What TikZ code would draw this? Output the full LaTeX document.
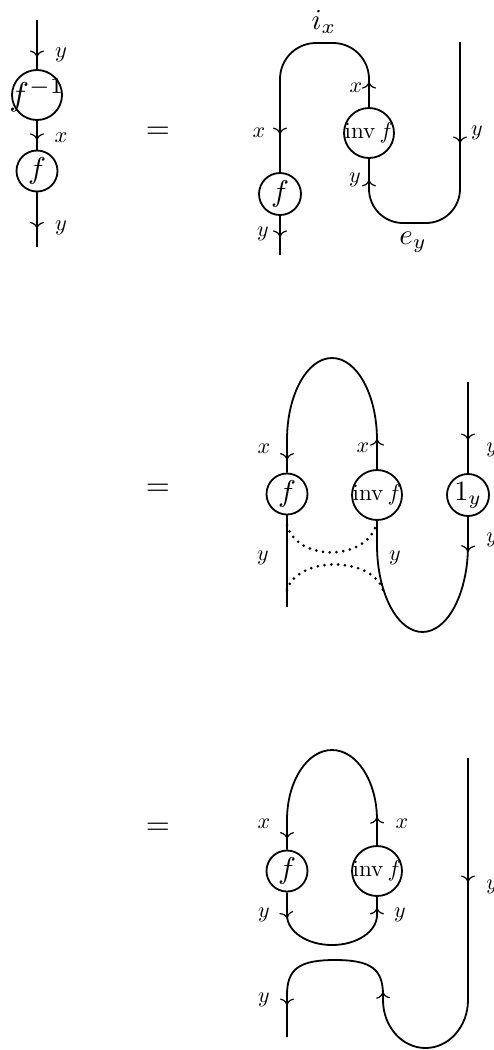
\documentclass[tikz,border=0pt]{standalone}
\usetikzlibrary{decorations.markings,arrows.meta}
\tikzset{
  myto/.tip={To[length=6.5pt,width=14pt,line width=1.2pt]},
  strand/.style={line width=1.8pt},
  arr/.style={postaction={decorate,decoration={markings,mark=at position #1 with {\arrow{myto}}}}},
  bx/.style={circle,draw,line width=1.8pt,inner sep=0pt,minimum size=#1},
  txt/.style={inner sep=0pt,scale=#1},
  lab/.style={inner sep=0pt,scale=2.2},
  labA/.style={inner sep=0pt,scale=2.25},
  big/.style={inner sep=0pt,scale=2.9},
  eq/.style={inner sep=0pt,scale=3.1},
  dots/.style={line width=3pt,line cap=round,dash pattern=on 0pt off 6.8pt},
}
\begin{document}
\begin{tikzpicture}[x=1pt,y=-1pt]
\useasboundingbox (0,0) rectangle (493,1050);
% ---------- panel 1 ----------
\coordinate (t1) at (37,20);
\coordinate (b1) at (37,247);
\node[bx=50pt] (finv) at (37,95) {};
\node[txt=3.3] (finvt) at (finv) {$f^{-1}$};
\node[bx=41pt] (f1) at (37,171) {};
\node[txt=3.0] (f1t) at (f1) {$f$};
\draw[strand,arr=37pt] (t1) -- (finv.north);
\draw[strand,arr=19pt] (finv.south) -- (f1.north);
\draw[strand,arr=36pt] (f1.south) -- (b1);
\node[labA] (l1) at (61,55) {$y$};
\node[labA] (l2) at (61,138) {$x$};
\node[labA] (l3) at (61,228) {$y$};
\node[eq] (eq1) at (158,133) {$=$};
% ---------- panel 2 ----------
\node[bx=42pt] (f2) at (280,194) {};
\node[txt=3.0] (f2t) at (f2) {$f$};
\node[bx=50pt] (inv2) at (369,133) {};
\node[txt=2.3] (inv2t) at (inv2) {$\mathrm{inv}\,f$};
\coordinate (r2) at (460,42);
\coordinate (b2) at (280,255);
\draw[strand,rounded corners=36pt,arr=25pt,arr=-38pt] (inv2.north) -- (369,43) -- (280,43) -- (f2.north);
\draw[strand,arr=21pt] (f2.south) -- (b2);
\draw[strand,rounded corners=34pt,arr=101pt,arr=-21pt] (r2) -- (460,223) -- (369,223) -- (inv2.south);
\node[lab] (l4) at (259,133) {$x$};
\node[lab] (l5) at (356,88) {$x$};
\node[lab] (l6) at (263,234) {$y$};
\node[lab] (l7) at (355,180) {$y$};
\node[lab] (l8) at (477,133) {$y$};
\node[big] (ix) at (324,22) {$i_x$};
\node[big] (ey) at (413,242) {$e_y$};
% ---------- panel 3 ----------
\node[eq] (eq2) at (158,490) {$=$};
\node[bx=41pt] (f3) at (287,494) {};
\node[txt=3.0] (f3t) at (f3) {$f$};
\node[bx=50pt] (inv3) at (377,495) {};
\node[txt=2.3] (inv3t) at (inv3) {$\mathrm{inv}\,f$};
\node[bx=42pt] (one) at (468,495) {};
\node[txt=2.8] (onet) at (one) {$1_y$};
\coordinate (b3) at (287,607);
\coordinate (r3) at (468,382);
\draw[strand,arr=30pt,arr=-13pt] (inv3.north) -- (377,440) arc[start angle=0,end angle=-180,x radius=45,y radius=82] -- (f3.north);
\draw[strand] (f3.south) -- (b3);
\draw[strand,arr=58pt] (r3) -- (one.north);
\draw[strand,arr=35pt] (one.south) -- (468,545) arc[start angle=0,end angle=180,x radius=45.5,y radius=87] -- (inv3.south);
\draw[dots] (287,525) .. controls (297,562) and (368,562) .. (377,522);
\draw[dots] (287,590) .. controls (297,556) and (372,556) .. (383,590);
\node[lab] (l9) at (264,449) {$x$};
\node[lab] (l10) at (363,448) {$x$};
\node[lab] (l11) at (263,558) {$y$};
\node[lab] (l12) at (395,558) {$y$};
\node[lab,anchor=west] (l13) at (486,450) {$y$};
\node[lab,anchor=west] (l14) at (486,540) {$y$};
% ---------- panel 4 ----------
\node[eq] (eq3) at (158,829) {$=$};
\node[bx=41pt] (f4) at (287,871) {};
\node[txt=3.0] (f4t) at (f4) {$f$};
\node[bx=50pt] (inv4) at (377,871) {};
\node[txt=2.3] (inv4t) at (inv4) {$\mathrm{inv}\,f$};
\draw[strand,arr=28pt,arr=-11pt] (inv4.north) -- (377,820) arc[start angle=0,end angle=-180,x radius=45,y radius=70] -- (f4.north);
\draw[strand,arr=26pt,arr=-11pt] (f4.south) -- (287,915) arc[start angle=180,end angle=0,x radius=45,y radius=30] -- (inv4.south);
\coordinate (r4) at (468,758);
\coordinate (m4) at (383,1000);
\coordinate (b4) at (287,1037);
\draw[strand,arr=124pt] (r4) -- (468,1000) arc[start angle=0,end angle=180,x radius=42.5,y radius=48];
\draw[strand,arr=8pt,arr=-32pt] (m4) -- (383,995) .. controls (383,969) and (371,960) .. (335,960) .. controls (299,960) and (287,969) .. (287,995) -- (b4);
\node[lab] (l15) at (264,824) {$x$};
\node[lab] (l16) at (402,824) {$x$};
\node[lab] (l17) at (264,915) {$y$};
\node[lab] (l18) at (400,915) {$y$};
\node[lab] (l19) at (264,1000) {$y$};
\node[lab,anchor=west] (l20) at (486,887) {$y$};
\end{tikzpicture}
\end{document}
